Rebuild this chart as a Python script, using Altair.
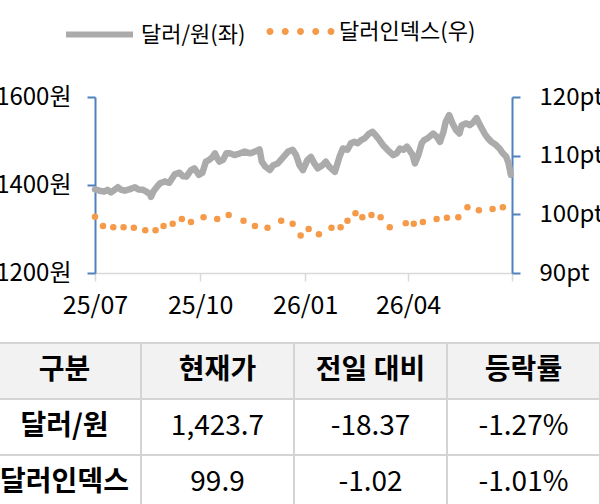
import altair as alt
import pandas as pd

FONT = "Noto Sans CJK KR"
GRAY = "#ababab"
ORANGE = "#f59a48"
BLUE = "#4f81bd"
AXGRAY = "#d9d9d9"
GRID = "#d4d4d4"

# ---- series: USD/KRW (left axis) ----
krw_dates = [
    "2025-07-01", "2025-07-05", "2025-07-09", "2025-07-12", "2025-07-15", "2025-07-18",
    "2025-07-21", "2025-07-24", "2025-07-27", "2025-07-31", "2025-08-05", "2025-08-08",
    "2025-08-12", "2025-08-15", "2025-08-18", "2025-08-19", "2025-08-21", "2025-08-24",
    "2025-08-27", "2025-08-31", "2025-09-04", "2025-09-09", "2025-09-13", "2025-09-16",
    "2025-09-19", "2025-09-23", "2025-09-26", "2025-09-30", "2025-10-03", "2025-10-06",
    "2025-10-09", "2025-10-12", "2025-10-14", "2025-10-16", "2025-10-18", "2025-10-21",
    "2025-10-24", "2025-10-27", "2025-10-31", "2025-11-05", "2025-11-09", "2025-11-14",
    "2025-11-18", "2025-11-22", "2025-11-24", "2025-11-27", "2025-12-01", "2025-12-04",
    "2025-12-08", "2025-12-13", "2025-12-17", "2025-12-21", "2025-12-24", "2025-12-27",
    "2025-12-30", "2026-01-03", "2026-01-06", "2026-01-09", "2026-01-12", "2026-01-16",
    "2026-01-19", "2026-01-22", "2026-01-27", "2026-01-31", "2026-02-03", "2026-02-07",
    "2026-02-10", "2026-02-13", "2026-02-16", "2026-02-19", "2026-02-22", "2026-02-26",
    "2026-03-01", "2026-03-04", "2026-03-07", "2026-03-10", "2026-03-14", "2026-03-19",
    "2026-03-22", "2026-03-25", "2026-03-28", "2026-03-31", "2026-04-02", "2026-04-05",
    "2026-04-07", "2026-04-10", "2026-04-13", "2026-04-15", "2026-04-18", "2026-04-23",
    "2026-04-26", "2026-04-29", "2026-05-02", "2026-05-04", "2026-05-07", "2026-05-10",
    "2026-05-13", "2026-05-16", "2026-05-18", "2026-05-22", "2026-05-25", "2026-05-28",
    "2026-05-31", "2026-06-03", "2026-06-07", "2026-06-10", "2026-06-13", "2026-06-17",
    "2026-06-20", "2026-06-23", "2026-06-26", "2026-06-28", "2026-06-30",
]
krw_values = [
    1390, 1387, 1385, 1389, 1383, 1389,
    1395, 1389, 1387, 1390, 1395, 1390,
    1389, 1385, 1379, 1373, 1385, 1395,
    1404, 1408, 1405, 1425, 1428, 1420,
    1419, 1434, 1438, 1423, 1428, 1453,
    1457, 1464, 1472, 1461, 1453, 1457,
    1472, 1472, 1468, 1472, 1476, 1472,
    1476, 1481, 1453, 1442, 1434, 1445,
    1449, 1464, 1476, 1480, 1468, 1445,
    1434, 1457, 1464, 1449, 1438, 1445,
    1453, 1442, 1430, 1464, 1483, 1480,
    1495, 1498, 1495, 1502, 1506, 1517,
    1521, 1512, 1502, 1491, 1480, 1468,
    1472, 1483, 1480, 1487, 1480, 1468,
    1449, 1468, 1495, 1502, 1506, 1517,
    1510, 1498, 1521, 1544, 1559, 1540,
    1525, 1517, 1536, 1540, 1536, 1542,
    1552, 1536, 1517, 1506, 1498, 1491,
    1483, 1472, 1464, 1449, 1423,
]

# ---- series: Dollar index (right axis) ----
dxy_dates = [
    "2025-07-01", "2025-07-08", "2025-07-17", "2025-07-26", "2025-08-04", "2025-08-14",
    "2025-08-23", "2025-08-30", "2025-09-07", "2025-09-15", "2025-09-23", "2025-10-04",
    "2025-10-16", "2025-10-26", "2025-11-08", "2025-11-18", "2025-11-29", "2025-12-11",
    "2025-12-21", "2025-12-28", "2026-01-04", "2026-01-13", "2026-01-24", "2026-02-01",
    "2026-02-07", "2026-02-14", "2026-02-20", "2026-02-28", "2026-03-08", "2026-03-16",
    "2026-03-30", "2026-04-06", "2026-04-14", "2026-04-26", "2026-05-05", "2026-05-15",
    "2026-05-23", "2026-06-02", "2026-06-14", "2026-06-23",
]
dxy_values = [
    99.6, 98.0, 97.8, 97.8, 97.7, 97.3,
    97.3, 98.0, 98.4, 99.2, 98.7, 99.5,
    99.2, 99.9, 98.9, 98.0, 97.7, 98.9,
    98.4, 96.4, 97.5, 96.6, 97.7, 97.8,
    98.9, 100.2, 99.5, 99.9, 99.5, 97.8,
    98.5, 98.4, 98.7, 99.2, 99.4, 99.5,
    101.2, 100.7, 100.9, 101.2,
]

series_names = ["달러/원(좌)", "달러인덱스(우)"]

# ---- table ----
table_header = ["구분", "현재가", "전일 대비", "등락률"]
table_rows = ["달러/원", "달러인덱스"]
table_current = ["1,423.7", "99.9"]
table_change = ["-18.37", "-1.02"]
table_pct = ["-1.27%", "-1.01%"]

krw = pd.DataFrame({"date": pd.to_datetime(krw_dates), "value": krw_values, "series": series_names[0]})
dxy = pd.DataFrame({"date": pd.to_datetime(dxy_dates), "value": dxy_values, "series": series_names[1]})

cells = []
row_keys = [table_header[0]] + table_rows
for c, h in enumerate(table_header):
    cells.append({"row": row_keys[0], "col": h, "text": h, "head": True, "bold": True})
for r, name in enumerate(table_rows):
    vals = [name, table_current[r], table_change[r], table_pct[r]]
    for c, h in enumerate(table_header):
        cells.append({"row": name, "col": h, "text": vals[c], "head": False, "bold": c == 0})
tbl = pd.DataFrame(cells)

# ---- scales ----
x_dom = [alt.DateTime(year=2025, month=7, date=1), alt.DateTime(year=2026, month=7, date=1)]
x_ticks = [
    alt.DateTime(year=2025, month=7, date=1), alt.DateTime(year=2025, month=10, date=1),
    alt.DateTime(year=2026, month=1, date=1), alt.DateTime(year=2026, month=4, date=1),
    alt.DateTime(year=2026, month=7, date=1),
]
xscale = alt.Scale(domain=x_dom, range=[95, 512])


def circle_path(cx, r):
    k = 0.5523 * r
    f = lambda v: f"{v:.4f}"
    return (f"M{f(cx + r)},0C{f(cx + r)},{f(k)} {f(cx + k)},{f(r)} {f(cx)},{f(r)}"
            f"C{f(cx - k)},{f(r)} {f(cx - r)},{f(k)} {f(cx - r)},0"
            f"C{f(cx - r)},{f(-k)} {f(cx - k)},{f(-r)} {f(cx)},{f(-r)}"
            f"C{f(cx + k)},{f(-r)} {f(cx + r)},{f(-k)} {f(cx + r)},0Z")


dots_path = "".join(circle_path(cx, 0.115) for cx in [-1, -0.5, 0, 0.5, 1])

line = alt.Chart(krw).mark_line(strokeWidth=6.5, strokeJoin="round", strokeCap="round").encode(
    x=alt.X("date:T", scale=xscale, title=None,
            axis=alt.Axis(orient="bottom", offset=-231, values=x_ticks,
                          labelExpr="datum.index < 1 ? timeFormat(datum.value, '%y/%m') : ''",
                          domainColor=AXGRAY, domainWidth=1.5, tickColor=AXGRAY, tickWidth=1.5,
                          tickSize=8, labelPadding=12, labelFontSize=25, grid=False,
                          labelFlush=False, labelOverlap=False)),
    y=alt.Y("value:Q", scale=alt.Scale(domain=[1200, 1600], range=[273, 97], nice=False, zero=False),
            title=None,
            axis=alt.Axis(orient="left", offset=-95, values=[1200, 1400, 1600],
                          labelExpr="datum.value + '원'", domainColor=BLUE, domainWidth=2,
                          tickColor=BLUE, tickWidth=2, tickSize=8, labelPadding=16,
                          labelFontSize=24, grid=False)),
    stroke=alt.Stroke("series:N", scale=alt.Scale(domain=[series_names[0]], range=[GRAY]), title=None,
                      legend=alt.Legend(orient="none", legendX=63, legendY=-2, symbolType="M-1,0L1,0",
                                        symbolSize=4489, symbolStrokeWidth=6, labelFontSize=22,
                                        labelOffset=5, padding=0)),
)

points = alt.Chart(dxy).mark_circle(size=42, opacity=1).encode(
    x=alt.X("date:T", scale=xscale, axis=None),
    y=alt.Y("value:Q", scale=alt.Scale(domain=[90, 120], range=[273, 97], nice=False, zero=False),
            title=None,
            axis=alt.Axis(orient="right", offset=-88, values=[90, 100, 110, 120],
                          labelExpr="datum.value + 'pt'", domainColor=BLUE, domainWidth=2,
                          tickColor=BLUE, tickWidth=2, tickSize=8, labelPadding=19,
                          labelFontSize=24, grid=False)),
    fill=alt.Fill("series:N", scale=alt.Scale(domain=[series_names[1]], range=[ORANGE]), title=None,
                  legend=alt.Legend(orient="none", legendX=270, legendY=1, symbolType=dots_path,
                                    symbolSize=3721, symbolStrokeWidth=0, labelFontSize=22,
                                    labelOffset=8, padding=0)),
)

xband = alt.Scale(type="band", domain=table_header, range=[-12, 600], paddingInner=0, paddingOuter=0)
yband = alt.Scale(type="band", domain=row_keys, range=[343, 511], paddingInner=0, paddingOuter=0)

base_t = alt.Chart(tbl)
cells_rect = base_t.mark_rect(stroke=GRID, strokeWidth=2).encode(
    x=alt.X("col:N", scale=xband, axis=None),
    y=alt.Y("row:N", scale=yband, axis=None),
    fill=alt.condition("datum.head", alt.value("#f2f2f2"), alt.value("#ffffff")),
)
text_bold = base_t.transform_filter("datum.bold").mark_text(
    font=FONT, fontSize=28, fontWeight="bold", color="#000000").encode(
    x=alt.X("col:N", scale=xband, axis=None),
    y=alt.Y("row:N", scale=yband, axis=None),
    text="text:N",
)
text_norm = base_t.transform_filter("!datum.bold").mark_text(
    font=FONT, fontSize=28, color="#000000").encode(
    x=alt.X("col:N", scale=xband, axis=None),
    y=alt.Y("row:N", scale=yband, axis=None),
    text="text:N",
)

chart = alt.layer(line, points, cells_rect, text_bold, text_norm).resolve_scale(
    x="independent", y="independent", fill="independent", stroke="independent"
).properties(
    width=600, height=504, padding=0, autosize=alt.AutoSizeParams(type="none")
).configure_view(stroke=None).configure_axis(
    labelFont=FONT, labelColor="#000000"
).configure_legend(labelFont=FONT, labelColor="#000000")

chart.save("out.html", embed_options={"renderer": "svg", "actions": False})
